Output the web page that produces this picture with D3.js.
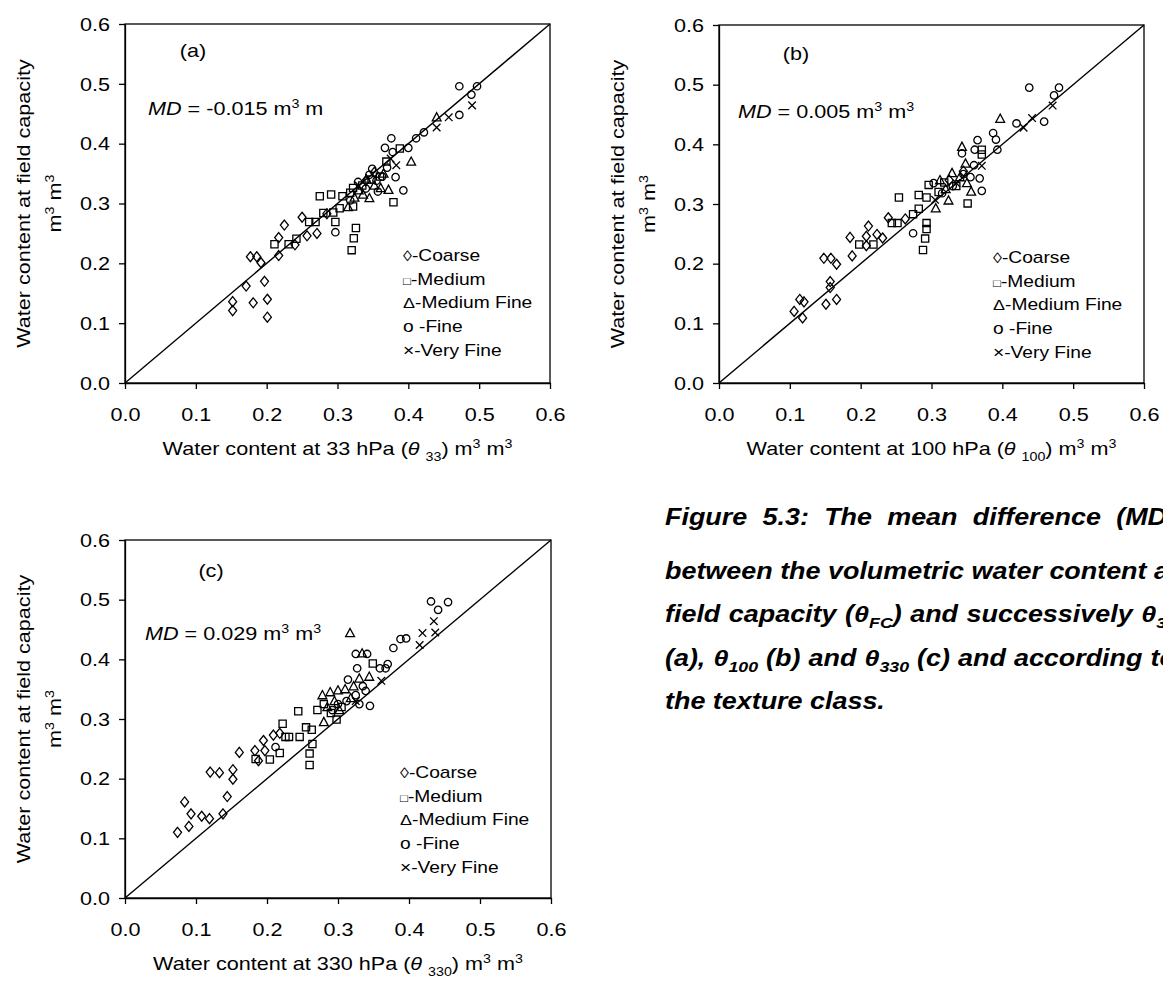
<!DOCTYPE html>
<html><head><meta charset="utf-8">
<script src="https://cdn.jsdelivr.net/npm/d3@7"></script>
<style>
body{margin:0;background:#fff}
svg{font-family:"Liberation Sans",Arial,sans-serif}
</style>
</head><body>
<svg id="chart" width="1163" height="986"></svg>
<script>
// ---------- data ----------
const axisTicks = [0, 0.1, 0.2, 0.3, 0.4, 0.5, 0.6];
const legendSymbols = ["\u25CA", "\u25A1", "\u0394", "o ", "\u00D7"];
const legendNames = ["-Coarse", "-Medium", "-Medium Fine", "-Fine", "-Very Fine"];
const classNames = ["Coarse", "Medium", "Medium Fine", "Fine", "Very Fine"];
const panelLetters = ["(a)", "(b)", "(c)"];
const mdValues = ["-0.015", "0.005", "0.029"];
const xSubscripts = ["33", "100", "330"];
const xPressures = ["33", "100", "330"];

// panel (a): theta33 vs theta FC
const coarseA = [[0.152,0.136],[0.152,0.121],[0.171,0.162],[0.181,0.134],[0.197,0.170],[0.201,0.140],[0.201,0.110],[0.177,0.211],[0.186,0.211],[0.192,0.201],[0.217,0.213],[0.217,0.243],[0.225,0.264],[0.240,0.231],[0.250,0.277],[0.257,0.246],[0.271,0.250],[0.285,0.283],[0.340,0.338],[0.352,0.352]];
const mediumA = [[0.211,0.232],[0.231,0.232],[0.242,0.241],[0.260,0.269],[0.269,0.269],[0.275,0.312],[0.280,0.284],[0.291,0.315],[0.294,0.285],[0.297,0.269],[0.303,0.292],[0.307,0.312],[0.320,0.222],[0.323,0.242],[0.326,0.259],[0.322,0.295],[0.322,0.326],[0.379,0.302],[0.388,0.392],[0.369,0.370],[0.335,0.330],[0.348,0.340],[0.360,0.345],[0.318,0.318]];
const mediumFineA = [[0.315,0.294],[0.324,0.310],[0.336,0.315],[0.345,0.309],[0.361,0.326],[0.372,0.323],[0.404,0.370],[0.440,0.444],[0.341,0.340],[0.330,0.322],[0.352,0.330],[0.365,0.350]];
const fineA = [[0.297,0.252],[0.349,0.358],[0.329,0.336],[0.367,0.393],[0.376,0.409],[0.378,0.386],[0.400,0.393],[0.382,0.344],[0.393,0.322],[0.411,0.409],[0.422,0.419],[0.472,0.496],[0.489,0.482],[0.497,0.496],[0.472,0.448],[0.357,0.320],[0.363,0.345],[0.370,0.360],[0.340,0.325],[0.355,0.338],[0.318,0.305],[0.345,0.348]];
const veryFineA = [[0.440,0.427],[0.457,0.444],[0.490,0.464],[0.383,0.364],[0.375,0.375],[0.330,0.330]];

// panel (b): theta100 vs theta FC
const coarseB = [[0.106,0.120],[0.114,0.140],[0.120,0.136],[0.118,0.109],[0.151,0.132],[0.157,0.170],[0.157,0.160],[0.166,0.140],[0.148,0.209],[0.158,0.209],[0.166,0.199],[0.185,0.244],[0.188,0.213],[0.208,0.246],[0.211,0.263],[0.208,0.230],[0.223,0.249],[0.231,0.243],[0.239,0.277],[0.263,0.275],[0.325,0.340],[0.345,0.355]];
const mediumB = [[0.198,0.232],[0.218,0.232],[0.244,0.268],[0.252,0.268],[0.254,0.311],[0.274,0.283],[0.282,0.315],[0.282,0.292],[0.293,0.311],[0.288,0.223],[0.291,0.242],[0.293,0.258],[0.293,0.268],[0.296,0.332],[0.351,0.301],[0.371,0.391],[0.371,0.383],[0.318,0.336],[0.310,0.320],[0.335,0.330]];
const mediumFineB = [[0.306,0.293],[0.324,0.306],[0.312,0.340],[0.329,0.352],[0.343,0.396],[0.348,0.368],[0.356,0.321],[0.397,0.443],[0.340,0.345],[0.320,0.325],[0.350,0.335]];
const fineB = [[0.274,0.251],[0.303,0.335],[0.343,0.385],[0.365,0.407],[0.361,0.391],[0.387,0.419],[0.391,0.408],[0.393,0.391],[0.368,0.343],[0.371,0.322],[0.438,0.495],[0.473,0.482],[0.480,0.495],[0.420,0.435],[0.459,0.438],[0.330,0.330],[0.345,0.350],[0.355,0.345],[0.315,0.318],[0.360,0.365]];
const veryFineB = [[0.430,0.428],[0.442,0.444],[0.471,0.465],[0.371,0.364],[0.305,0.307],[0.335,0.335]];

// panel (c): theta330 vs theta FC
const coarseC = [[0.074,0.110],[0.084,0.161],[0.090,0.120],[0.093,0.141],[0.108,0.137],[0.119,0.133],[0.138,0.141],[0.144,0.170],[0.120,0.211],[0.133,0.210],[0.152,0.215],[0.152,0.199],[0.161,0.244],[0.183,0.247],[0.188,0.230],[0.195,0.264],[0.197,0.247],[0.209,0.273],[0.218,0.276]];
const mediumC = [[0.184,0.233],[0.204,0.232],[0.218,0.243],[0.222,0.292],[0.226,0.270],[0.231,0.270],[0.244,0.313],[0.246,0.270],[0.255,0.286],[0.263,0.282],[0.264,0.258],[0.260,0.242],[0.260,0.223],[0.271,0.315],[0.349,0.393],[0.298,0.299],[0.280,0.325],[0.290,0.310],[0.305,0.320]];
const mediumFineC = [[0.317,0.444],[0.334,0.410],[0.330,0.368],[0.344,0.371],[0.278,0.340],[0.289,0.345],[0.300,0.348],[0.280,0.295],[0.295,0.330],[0.310,0.350],[0.318,0.335],[0.285,0.320],[0.302,0.315],[0.322,0.355]];
const fineC = [[0.212,0.253],[0.314,0.366],[0.325,0.409],[0.341,0.409],[0.327,0.385],[0.359,0.385],[0.367,0.385],[0.370,0.392],[0.378,0.419],[0.388,0.434],[0.396,0.435],[0.431,0.497],[0.441,0.483],[0.455,0.496],[0.345,0.322],[0.339,0.347],[0.300,0.325],[0.312,0.330],[0.325,0.340],[0.330,0.325],[0.292,0.315],[0.335,0.355]];
const veryFineC = [[0.419,0.444],[0.435,0.464],[0.361,0.364],[0.415,0.424],[0.437,0.445],[0.325,0.330]];

const captionLines = [
  ["Figure","5.3:","The","mean","difference","(MD)"],
  ["between","the","volumetric","water","content","at"],
  ["field","capacity","(\u03B8_FC)","and","successively","\u03B8_33"],
  ["(a),","\u03B8_100","(b)","and","\u03B8_330","(c)","and","according","to"],
  ["the","texture","class."]
];

// ---------- layout ----------
const SX = 1.2;           // horizontal text stretch seen in the figure
const layouts = [
  {left:125,right:550,top:24,bottom:383,label:[193,57],md:[148,115],leg:[403,261]},
  {left:719,right:1144,top:25,bottom:383,label:[796,60],md:[738,118],leg:[993,263]},
  {left:125,right:551,top:540,bottom:898,label:[211,577],md:[145,640],leg:[400,778]}
];
const seriesByPanel = [
  [coarseA, mediumA, mediumFineA, fineA, veryFineA],
  [coarseB, mediumB, mediumFineB, fineB, veryFineB],
  [coarseC, mediumC, mediumFineC, fineC, veryFineC]
];
const legendSymbolSize = [15, 11, 15, 16, 16];

const shapes = [
  {draw(c){c.moveTo(0,-5);c.lineTo(4,0);c.lineTo(0,5);c.lineTo(-4,0);c.closePath();}},
  {draw(c){c.rect(-3.6,-3.6,7.2,7.2);}},
  {draw(c){c.moveTo(0,-4.6);c.lineTo(4.4,3.6);c.lineTo(-4.4,3.6);c.closePath();}},
  {draw(c){c.moveTo(3.7,0);c.arc(0,0,3.7,0,2*Math.PI);}},
  {draw(c){c.moveTo(-3.8,-3.8);c.lineTo(3.8,3.8);c.moveTo(-3.8,3.8);c.lineTo(3.8,-3.8);}}
];

const svg = d3.select("#chart");

function rich(sel, segs, size){
  let shift = 0;
  segs.forEach(s=>{
    const target = s.sub ? size*0.32 : (s.sup ? -size*0.38 : 0);
    const ts = sel.append("tspan").text(s.t).attr("dy", (target-shift).toFixed(2));
    shift = target;
    if (s.sub || s.sup) ts.style("font-size", (size*0.66)+"px");
    if (s.size) ts.style("font-size", s.size+"px");
    if (s.it) ts.style("font-style","italic");
  });
  return sel;
}
function stretchedText(parent, x, y, size, anchor, rot){
  return parent.append("text")
    .attr("transform", `translate(${x},${y})` + (rot ? ` rotate(${rot})` : "") + ` scale(${SX},1)`)
    .attr("text-anchor", anchor)
    .style("font-size", size+"px")
    .attr("fill","#000");
}

layouts.forEach((L, pi)=>{
  const x = d3.scaleLinear().domain([0,0.6]).range([L.left, L.right]);
  const y = d3.scaleLinear().domain([0,0.6]).range([L.bottom, L.top]);
  const g = svg.append("g");

  // plot frame
  g.append("rect").attr("x",L.left).attr("y",L.top)
    .attr("width",L.right-L.left).attr("height",L.bottom-L.top)
    .attr("fill","none").attr("stroke","#000").attr("stroke-width",1.3);

  // axes
  const ax = g.append("g").attr("transform",`translate(0,${L.bottom})`)
    .call(d3.axisBottom(x).tickValues(axisTicks).tickSize(6).tickSizeOuter(0).tickPadding(19).tickFormat(d3.format(".1f")));
  const ay = g.append("g").attr("transform",`translate(${L.left},0)`)
    .call(d3.axisLeft(y).tickValues(axisTicks).tickSize(6).tickSizeOuter(0).tickFormat(d3.format(".1f")));
  [ax, ay].forEach(a=>{
    a.attr("font-family",null).attr("font-size",null);
    a.selectAll("path,line").attr("stroke","#000").attr("stroke-width",1.3);
    a.selectAll("text").style("font-size","18px").attr("fill","#000");
  });
  ax.selectAll("text").attr("transform",`scale(${SX},1)`).attr("dy","0.71em");
  ay.selectAll("text").attr("x",(-15/SX).toFixed(2)).attr("dy","0.35em").attr("transform",`scale(${SX},1)`);

  // 1:1 line
  g.append("line").attr("x1",x(0)).attr("y1",y(0)).attr("x2",x(0.6)).attr("y2",y(0.6))
    .attr("stroke","#000").attr("stroke-width",1.4);

  // points
  seriesByPanel[pi].forEach((pts, si)=>{
    g.append("g").attr("class","series-"+classNames[si].replace(" ","-"))
      .selectAll("path").data(pts).join("path")
      .attr("transform", d=>`translate(${x(d[0])},${y(d[1])})`)
      .attr("d", d3.symbol().type(shapes[si]))
      .attr("fill","none").attr("stroke","#000").attr("stroke-width",1.3);
  });

  // panel label
  stretchedText(g, L.label[0], L.label[1], 18, "middle").text(panelLetters[pi]);

  // MD text
  rich(stretchedText(g, L.md[0], L.md[1], 18, "start"),
    pi===0 ? [{t:"MD",it:true},{t:" = "+mdValues[pi]+" m"},{t:"3",sup:true},{t:" m"}]
           : [{t:"MD",it:true},{t:" = "+mdValues[pi]+" m"},{t:"3",sup:true},{t:" m"},{t:"3",sup:true}], 18);

  // legend
  legendNames.forEach((lab, i)=>{
    rich(stretchedText(g, L.leg[0], L.leg[1] + i*23.7, 16, "start"),
      [{t:legendSymbols[i], size:legendSymbolSize[i]},{t:lab}], 16);
  });

  // x title
  rich(stretchedText(g, (L.left+L.right)/2, L.bottom+72, 18, "middle"),
    [{t:"Water content at "+xPressures[pi]+" hPa ("},{t:"\u03B8",it:true},{t:" "},{t:xSubscripts[pi],sub:true},{t:") m"},{t:"3",sup:true},{t:" m"},{t:"3",sup:true}], 18);

  // y title (two lines)
  const cy = (L.top+L.bottom)/2;
  stretchedText(g, L.left-95, cy, 18, "middle", -90).text("Water content at field capacity");
  rich(stretchedText(g, L.left-64, cy, 18, "middle", -90),
    [{t:"m"},{t:"3",sup:true},{t:" m"},{t:"3",sup:true}], 18);
});

// ---------- caption (justified, bold italic) ----------
const CAP = {left:665, right:1176, baselines:[525,579,622,666,709], size:23, sx:1.17};
const cap = svg.append("g").style("font-weight","bold").style("font-style","italic");
function wordSegs(w){
  const m = w.match(/^(.*?)_([A-Za-z0-9]+)(.*)$/);
  if (!m) return [{t:w}];
  return [{t:m[1]},{t:m[2],sub:true},{t:m[3]}].filter(s=>s.t.length);
}
captionLines.forEach((words, li)=>{
  const els = words.map(w=>{
    const t = cap.append("text").style("font-size",CAP.size+"px").attr("fill","#000");
    let shift = 0;
    wordSegs(w).forEach(s=>{
      const target = s.sub ? CAP.size*0.25 : 0;
      const ts = t.append("tspan").text(s.t).attr("dy",(target-shift).toFixed(2));
      shift = target;
      if (s.sub) ts.style("font-size",(CAP.size*0.66)+"px");
    });
    return t;
  });
  const widths = els.map(t=>t.node().getComputedTextLength()*CAP.sx);
  const total = d3.sum(widths);
  const natGap = 0.278*CAP.size*CAP.sx;
  const last = li === captionLines.length-1;
  const gap = (last || words.length<2) ? natGap : Math.max(natGap, (CAP.right-CAP.left-total)/(words.length-1));
  let cx = CAP.left;
  els.forEach((t,i)=>{
    t.attr("transform",`translate(${cx},${CAP.baselines[li]}) scale(${CAP.sx},1)`);
    cx += widths[i] + gap;
  });
});
</script>
</body></html>
